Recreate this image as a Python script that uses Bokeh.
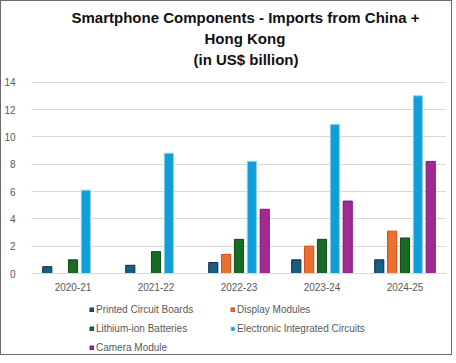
from bokeh.plotting import figure
from bokeh.layouts import column
from bokeh.models import (FactorRange, Range1d, Legend, LegendItem, Title,
                          FixedTicker, ColumnDataSource, Spacer)
from bokeh.transform import dodge
from bokeh.embed import file_html
from bokeh.resources import INLINE

nan = float("nan")
years = ["2020-21", "2021-22", "2022-23", "2023-24", "2024-25"]
series_names = ["Printed Circuit Boards", "Display Modules", "Lithium-ion Batteries",
                "Electronic Integrated Circuits", "Camera Module"]
pcb = [0.5, 0.6, 0.8, 1.0, 1.0]
display = [nan, nan, 1.4, 2.0, 3.1]
lithium = [1.0, 1.6, 2.5, 2.5, 2.6]
eic = [6.1, 8.8, 8.2, 10.9, 13.0]
camera = [nan, nan, 4.7, 5.3, 8.2]
y_ticks = [0, 2, 4, 6, 8, 10, 12, 14]
title_lines = ["Smartphone Components - Imports from China +", "Hong Kong", "(in US$ billion)"]

fills = ["#156082", "#E97132", "#196B24", "#0F9ED5", "#A02B93"]
lines = ["#0E2A4A", "#D9480F", "#0F4A17", "#8FCFEA", "#86137A"]
offsets = [-0.31, -0.155, 0.0, 0.155, 0.31]
cols = ["pcb", "display", "lithium", "eic", "camera"]

src = ColumnDataSource(dict(year=years, pcb=pcb, display=display, lithium=lithium,
                            eic=eic, camera=camera))

FONT = "Liberation Sans"
p = figure(x_range=FactorRange(*years), y_range=Range1d(0, 15.0),
           frame_width=415, frame_height=205, output_backend="svg",
           toolbar_location=None, min_border_left=20, min_border_right=5,
           min_border_top=0, min_border_bottom=0)

for col, off, fc, lc in zip(cols, offsets, fills, lines):
    p.vbar(x=dodge("year", off, range=p.x_range), top=col, width=0.11,
           source=src, fill_color=fc, line_color=lc, line_width=1)

# titles (last added is on top); left aligned with offsets to center them at one x
title_offsets = [40, 173, 162]
for txt, off in reversed(list(zip(title_lines, title_offsets))):
    t = Title(text=txt, align="left", text_font=FONT, text_font_size="15px",
              text_font_style="bold", text_color="#111111", standoff=2, offset=off)
    p.add_layout(t, "above")

p.outline_line_color = None
p.xgrid.grid_line_color = None
p.ygrid.grid_line_color = "#d9d9d9"
p.yaxis.ticker = FixedTicker(ticks=y_ticks)
p.yaxis.axis_line_color = None
p.yaxis.major_tick_line_color = None
p.yaxis.minor_tick_line_color = None
p.yaxis.major_label_text_font = FONT
p.yaxis.major_label_text_font_size = "10px"
p.yaxis.major_label_text_color = "#595959"
p.yaxis.major_label_standoff = 10

p.xaxis.axis_line_color = "#d9d9d9"
p.xaxis.major_tick_line_color = None
p.xaxis.minor_tick_line_color = None
p.xaxis.major_label_text_font = FONT
p.xaxis.major_label_text_font_size = "10px"
p.xaxis.major_label_text_color = "#595959"
p.xaxis.major_label_standoff = 3

# legend in its own small figure below the chart (its bars sit outside its view)
lg = figure(width=440, height=52, x_range=FactorRange(*years), y_range=Range1d(100, 101),
            x_axis_location=None, y_axis_location=None,
            output_backend="svg", toolbar_location=None,
            min_border_left=0, min_border_right=0, min_border_top=0, min_border_bottom=0)
lg.grid.visible = False
lg.outline_line_color = None
keys = []
for col, fc, lc in zip(cols, fills, lines):
    keys.append(lg.vbar(x="year", top=col, width=0.1, source=src,
                        fill_color=fc, line_color=lc, line_width=1))

items = [LegendItem(label=n, renderers=[r]) for n, r in zip(series_names, keys)]
legend = Legend(items=items, location=(58, 0), orientation="horizontal", ncols=2,
                glyph_width=5, glyph_height=5, label_text_font=FONT,
                label_text_font_size="10px", label_text_color="#595959",
                label_height=14, label_width=129, label_standoff=2, spacing=5,
                padding=0, margin=0, border_line_color=None, background_fill_alpha=0)
lg.add_layout(legend)

layout = column(Spacer(width=440, height=4), p, Spacer(width=440, height=9), lg,
                spacing=0)
layout.styles = {"border": "1px solid #6b6b6b"}
open("out.html", "w").write(file_html(layout, INLINE))
